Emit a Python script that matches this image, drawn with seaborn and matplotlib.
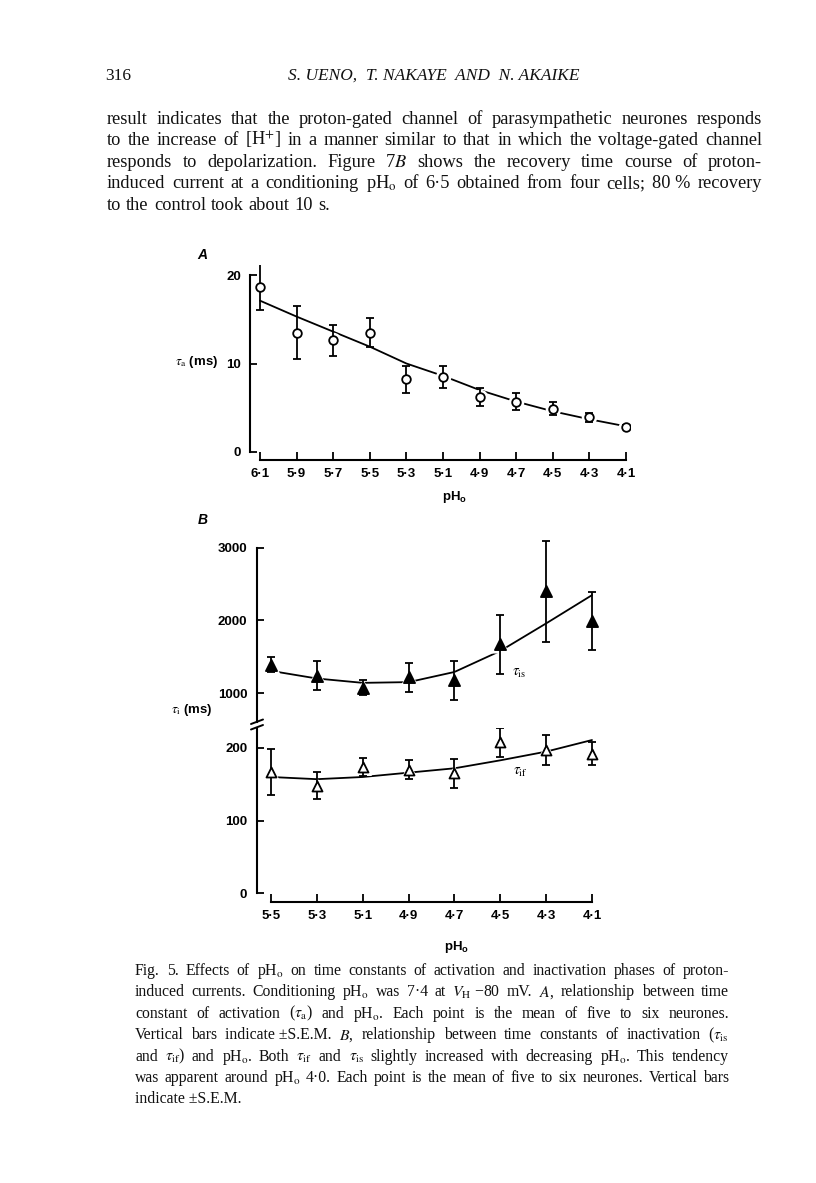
import numpy as np
import pandas as pd
import matplotlib
matplotlib.use("Agg")
import matplotlib.pyplot as plt
import seaborn as sns
from matplotlib.lines import Line2D

# ---------------- data ----------------
ph_a = [6.1, 5.9, 5.7, 5.5, 5.3, 5.1, 4.9, 4.7, 4.5, 4.3, 4.1]
ph_a_labels = ["6·1", "5·9", "5·7", "5·5", "5·3", "5·1", "4·9", "4·7", "4·5", "4·3", "4·1"]
tau_a = [18.6, 13.5, 12.6, 13.5, 8.2, 8.5, 6.2, 5.7, 4.9, 3.9, 2.8]
tau_a_err = [2.6, 3.0, 1.8, 1.6, 1.5, 1.25, 1.0, 1.0, 0.7, 0.55, 0.25]
tau_a_fit = [17.1, 15.3, 13.6, 11.9, 10.0, 8.6, 7.0, 5.7, 4.6, 3.7, 2.9]
ticks_a_y = [0, 10, 20]

ph_b = [5.5, 5.3, 5.1, 4.9, 4.7, 4.5, 4.3, 4.1]
ph_b_labels = ["5·5", "5·3", "5·1", "4·9", "4·7", "4·5", "4·3", "4·1"]
tau_is = [1390, 1240, 1075, 1215, 1175, 1670, 2400, 1990]
tau_is_err = [100, 205, 100, 200, 265, 405, 690, 400]
tau_is_fit = [1305, 1200, 1140, 1150, 1290, 1580, 1960, 2350]
tau_if = [167, 148, 174, 170, 165, 208, 197, 192]
tau_if_err = [32, 19, 12, 13, 20, 20, 21, 16]
tau_if_fit = [160, 157, 160, 166, 172, 183, 195, 211]
ticks_b_upper = [1000, 2000, 3000]
ticks_b_lower = [0, 100, 200]

header_page = "316"
header_title = "S. UENO,  T. NAKAYE  AND  N. AKAIKE"
body_lines = [
    "result indicates that the proton-gated channel of parasympathetic neurones responds",
    "to the increase of [H$^{+}$] in a manner similar to that in which the voltage-gated channel",
    "responds to depolarization. Figure 7$B$ shows the recovery time course of proton-",
    "induced current at a conditioning pH$_\\mathrm{o}$ of 6·5 obtained from four cells; 80\u00a0% recovery",
    "to the control took about 10 s.",
]
caption_lines = [
    "Fig. 5. Effects of pH$_\\mathrm{o}$ on time constants of activation and inactivation phases of proton-",
    "induced currents. Conditioning pH$_\\mathrm{o}$ was 7·4 at $V_\\mathrm{H}$\u00a0\u221280 mV. $A$, relationship between time",
    "constant of activation ($\\tau_\\mathrm{a}$) and pH$_\\mathrm{o}$. Each point is the mean of five to six neurones.",
    "Vertical bars indicate\u00a0±S.E.M. $B$, relationship between time constants of inactivation ($\\tau_\\mathrm{is}$",
    "and $\\tau_\\mathrm{if}$) and pH$_\\mathrm{o}$. Both $\\tau_\\mathrm{if}$ and $\\tau_\\mathrm{is}$ slightly increased with decreasing pH$_\\mathrm{o}$. This tendency",
    "was apparent around pH$_\\mathrm{o}$ 4·0. Each point is the mean of five to six neurones. Vertical bars",
    "indicate\u00a0±S.E.M.",
]

# ---------------- style ----------------
sns.set_theme(style="ticks")
plt.rcParams["font.family"] = ["Liberation Sans", "DejaVu Sans"]
plt.rcParams["mathtext.fontset"] = "custom"
plt.rcParams["mathtext.rm"] = "Liberation Sans"
plt.rcParams["mathtext.it"] = "Liberation Sans:italic"
plt.rcParams["mathtext.bf"] = "Liberation Sans:bold"

W, H = 816, 1183
fig = plt.figure(figsize=(W / 100, H / 100), dpi=100)
fig.patch.set_facecolor("white")

TICK_FS = 9.5
LW = 1.3
SPINE_LW = 1.5


def fx(px):
    return px / W


def fy(py):
    return 1 - py / H


def add_ax(left, right, top, bottom):
    return fig.add_axes([fx(left), fy(bottom), (right - left) / W, (bottom - top) / H])


def style_ax(ax):
    ax.set_facecolor("none")
    for s in ["top", "right"]:
        ax.spines[s].set_visible(False)
    for s in ["left", "bottom"]:
        ax.spines[s].set_linewidth(SPINE_LW)
        ax.spines[s].set_color("black")
    ax.tick_params(axis="y", direction="in", length=5, width=1.3, pad=6.5,
                   labelsize=TICK_FS, colors="black")
    ax.tick_params(axis="x", direction="in", length=6, width=1.3, pad=6,
                   labelsize=TICK_FS, colors="black")
    for lab in ax.get_xticklabels() + ax.get_yticklabels():
        lab.set_fontweight("bold")
    ax.grid(False)


def draw_series(ax, x, y, err, fit, marker, face, size):
    sns.lineplot(x=x, y=fit, ax=ax, color="black", lw=LW, sort=False,
                 estimator=None, zorder=1)
    sns.scatterplot(x=x, y=y, ax=ax, marker=marker, s=(size + 5) ** 2,
                    color="white", linewidth=0, zorder=2)
    ax.errorbar(x, y, yerr=err, fmt="none", ecolor="black", elinewidth=LW,
                capsize=3.2, capthick=LW, zorder=3)
    sns.scatterplot(x=x, y=y, ax=ax, marker=marker, s=size ** 2, color=face,
                    edgecolor="black", linewidth=1.3, zorder=4)


# ---------------- panel A ----------------
axA = add_ax(250, 630, 265, 460)
draw_series(axA, ph_a, tau_a, tau_a_err, tau_a_fit, "o", "white", 6.2)
axA.set_xlim(6.1 + 10 / 183, 4.1 - 4 / 183)
axA.set_ylim(-8 / 8.85, 20 + 10 / 8.85)
axA.set_xticks(ph_a)
axA.set_xticklabels(ph_a_labels)
axA.set_yticks(ticks_a_y)
axA.set_yticklabels([str(v) for v in ticks_a_y])
style_ax(axA)
axA.spines["left"].set_bounds(0, 20)
axA.spines["bottom"].set_bounds(6.1, 4.1)
axA.set_xlabel("")
axA.set_ylabel("")

# ---------------- panel B ----------------
pxu = 229.3
axBu = add_ax(257, 600, 535, 722)
axBl = add_ax(257, 600, 728, 902)
for ax in (axBu, axBl):
    ax.set_xlim(5.5 + 14 / pxu, 4.1 - 8 / pxu)

draw_series(axBu, ph_b, tau_is, tau_is_err, tau_is_fit, "^", "black", 8.0)
axBu.set_ylim(600, 3000 + 13 / 0.0725)
axBu.set_yticks(ticks_b_upper)
axBu.set_yticklabels([str(v) for v in ticks_b_upper])
style_ax(axBu)
axBu.spines["bottom"].set_visible(False)
axBu.spines["left"].set_bounds(600, 3000)
axBu.tick_params(axis="x", bottom=False, labelbottom=False)
axBu.tick_params(axis="y", pad=7)
axBu.set_xlabel("")
axBu.set_ylabel("")

draw_series(axBl, ph_b, tau_if, tau_if_err, tau_if_fit, "^", "white", 7.2)
axBl.set_ylim(-9 / 0.725, 200 + 20 / 0.725)
axBl.set_yticks(ticks_b_lower)
axBl.set_yticklabels([str(v) for v in ticks_b_lower])
axBl.set_xticks(ph_b)
axBl.set_xticklabels(ph_b_labels)
style_ax(axBl)
axBl.tick_params(axis="y", pad=7)
axBl.spines["left"].set_bounds(0, 200 + 20 / 0.725)
axBl.spines["bottom"].set_bounds(5.5, 4.1)
axBl.set_xlabel("")
axBl.set_ylabel("")

# break marks on the B axis
for (x0, y0, x1, y1) in [(251, 724, 263, 719.5), (251, 729.5, 263, 725)]:
    fig.add_artist(Line2D([fx(x0), fx(x1)], [fy(y0), fy(y1)], color="black",
                          lw=1.4, transform=fig.transFigure))

# ---------------- chart labels ----------------
lab_kw = dict(fontsize=TICK_FS, fontweight="bold", color="black")
fig.text(fx(455), fy(497), "pH$_\\mathbf{o}$", ha="center", va="center", **lab_kw)
fig.text(fx(457), fy(947), "pH$_\\mathbf{o}$", ha="center", va="center", **lab_kw)
fig.text(fx(197), fy(362), "$\\tau_\\mathrm{a}$ (ms)", ha="center", va="center",
         math_fontfamily="stix", **lab_kw)
fig.text(fx(192), fy(710), "$\\tau_\\mathrm{i}$ (ms)", ha="center", va="center",
         math_fontfamily="stix", **lab_kw)
fig.text(fx(512), fy(673), "$\\tau_\\mathrm{is}$", ha="left", va="center",
         math_fontfamily="stix", fontsize=10.5, color="black")
fig.text(fx(513), fy(772), "$\\tau_\\mathrm{if}$", ha="left", va="center",
         math_fontfamily="stix", fontsize=10.5, color="black")
fig.text(fx(202), fy(255), "A", ha="center", va="center", fontsize=10,
         fontstyle="italic", fontweight="bold", color="black")
fig.text(fx(203), fy(520), "B", ha="center", va="center", fontsize=10,
         fontstyle="italic", fontweight="bold", color="black")

# ---------------- page text ----------------
renderer = fig.canvas.get_renderer()
SERIF = ["Liberation Serif", "DejaVu Serif"]


def place_line(text, x0, x1, y_base, justify, fontsize, style="normal"):
    words = text.split(" ")
    objs = [fig.text(0, fy(y_base), w, ha="left", va="baseline", fontsize=fontsize,
                     family=SERIF, fontstyle=style, math_fontfamily="stix",
                     color="#111111") for w in words]
    widths = [o.get_window_extent(renderer).width for o in objs]
    natural = fontsize * 100 / 72 * 0.27
    if justify and len(words) > 1:
        gap = max((x1 - x0 - sum(widths)) / (len(words) - 1), natural * 0.6)
    else:
        gap = natural
    x = x0
    for o, w in zip(objs, widths):
        o.set_x(fx(x))
        x += w + gap


place_line(header_page, 105, 130, 80, False, 12.5)
fig.text(fx(434), fy(80), header_title, ha="center", va="baseline", fontsize=12.5,
         family=SERIF, fontstyle="italic", color="#111111")

for i, line in enumerate(body_lines):
    place_line(line, 107, 762, 124 + 21.4 * i, i < len(body_lines) - 1, 13.2)

for i, line in enumerate(caption_lines):
    place_line(line, 135, 729, 975 + 21.4 * i, i < len(caption_lines) - 1, 11.3)

fig.savefig("out.png", dpi=100, facecolor="white")
